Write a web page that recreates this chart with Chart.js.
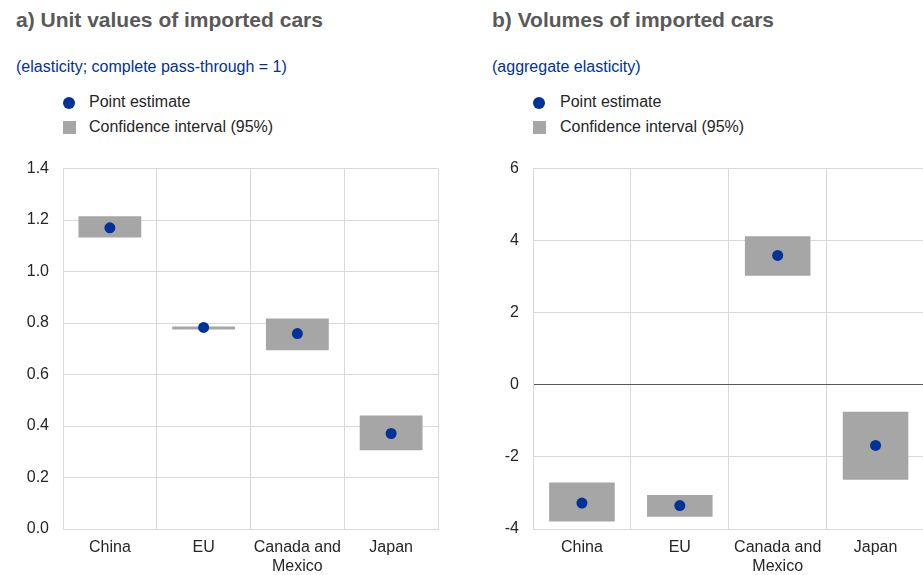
<!DOCTYPE html>
<html>
<head>
<meta charset="utf-8">
<script src="https://cdn.jsdelivr.net/npm/chart.js@4"></script>
<style>
  body { margin: 0; width: 923px; height: 575px; background: #fff; position: relative; overflow: hidden;
         font-family: Arial, "Liberation Sans", sans-serif; }
  .title { position: absolute; top: 8px; font-size: 21px; font-weight: bold; color: #595959; white-space: nowrap; }
  .sub { position: absolute; top: 58px; font-size: 16px; color: #003299; white-space: nowrap; }
  .leg { position: absolute; font-size: 16px; color: #262626; white-space: nowrap; }
  .dot { position: absolute; width: 12px; height: 12px; border-radius: 50%; background: #003299; }
  .sq { position: absolute; width: 13px; height: 13px; background: #a6a6a6; }
  .box { position: absolute; top: 145px; height: 430px; }
</style>
</head>
<body>
<div class="title" style="left:16px">a) Unit values of imported cars</div>
<div class="sub" style="left:16px">(elasticity; complete pass-through = 1)</div>
<div class="dot" style="left:63px;top:97px"></div>
<div class="leg" style="left:89px;top:93px">Point estimate</div>
<div class="sq" style="left:63px;top:121px"></div>
<div class="leg" style="left:89px;top:118px">Confidence interval (95%)</div>

<div class="title" style="left:492px">b) Volumes of imported cars</div>
<div class="sub" style="left:492px">(aggregate elasticity)</div>
<div class="dot" style="left:533px;top:97px"></div>
<div class="leg" style="left:560px;top:93px">Point estimate</div>
<div class="sq" style="left:533px;top:121px"></div>
<div class="leg" style="left:560px;top:118px">Confidence interval (95%)</div>

<div class="box" style="left:0;width:460px"><canvas id="chartA"></canvas></div>
<div class="box" style="left:460px;width:470px"><canvas id="chartB"></canvas></div>

<script>
const categories = ['China', 'EU', ['Canada and', 'Mexico'], 'Japan'];

// a) unit values
const unitPoint = [1.17, 0.783, 0.759, 0.371];
const unitLow = [1.132, 0.775, 0.694, 0.306];
const unitHigh = [1.215, 0.787, 0.818, 0.441];

// b) volumes
const volPoint = [-3.28, -3.35, 3.59, -1.68];
const volLow = [-3.79, -3.66, 3.03, -2.63];
const volHigh = [-2.71, -3.06, 4.12, -0.75];

const pointBlue = '#003299';
const barGrey = '#a6a6a6';
const gridGrey = '#d9d9d9';

const makeChart = (id, point, low, high, yMin, yMax, yStep, yAxisWidth, padRight, decimals) => {
  const ctx = document.getElementById(id).getContext('2d');
  return new Chart(ctx, {
    data: {
      labels: categories,
      datasets: [{
        type: 'line',
        data: point,
        showLine: false,
        pointRadius: 5.5,
        pointHoverRadius: 5.5,
        pointBackgroundColor: pointBlue,
        pointBorderWidth: 0,
        order: 0
      }, {
        type: 'bar',
        data: low.map((v, i) => [v, high[i]]),
        backgroundColor: barGrey,
        barPercentage: 0.67,
        categoryPercentage: 1,
        minBarLength: 3,
        order: 1
      }]
    },
    options: {
      responsive: true,
      maintainAspectRatio: false,
      animation: false,
      layout: { padding: { top: 5, right: padRight, left: 0, bottom: 0 } },
      plugins: { legend: { display: false }, tooltip: { enabled: false } },
      scales: {
        x: {
          grid: { color: gridGrey, drawTicks: false, offset: true },
          border: { color: gridGrey },
          ticks: { color: '#262626', font: { family: 'Arial', size: 16 }, padding: 9, maxRotation: 0 },
          afterFit: (s) => { s.height = 46; }
        },
        y: {
          min: yMin,
          max: yMax,
          grid: {
            color: (c) => (c.tick && c.tick.value === 0 && yMin < 0) ? '#595959' : gridGrey,
            drawTicks: false
          },
          border: { color: gridGrey },
          ticks: {
            stepSize: yStep,
            color: '#262626',
            font: { family: 'Arial', size: 16 },
            padding: 14,
            callback: (v) => v.toFixed(decimals)
          },
          afterFit: (s) => { s.width = yAxisWidth; }
        }
      }
    }
  });
};

document.addEventListener('DOMContentLoaded', () => {
  makeChart('chartA', unitPoint, unitLow, unitHigh, 0, 1.4, 0.2, 63, 22, 1);
  makeChart('chartB', volPoint, volLow, volHigh, -4, 6, 2, 73, 0, 0);
});
</script>
</body>
</html>
